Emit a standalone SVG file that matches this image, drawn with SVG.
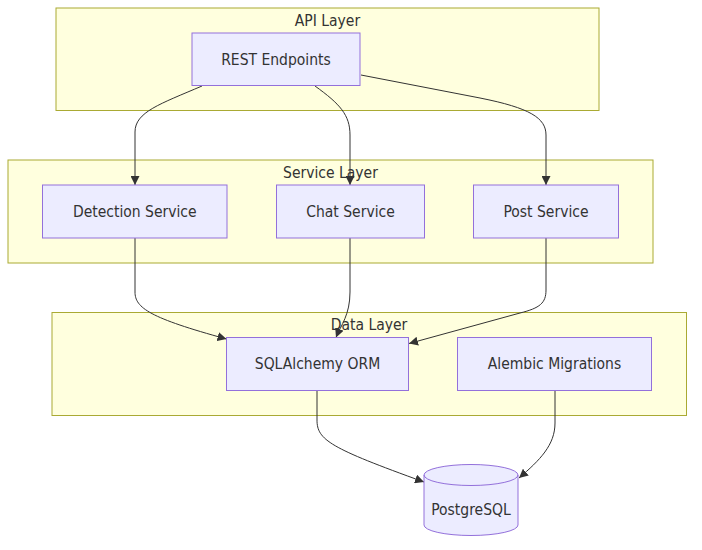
<svg xmlns="http://www.w3.org/2000/svg" width="702" height="550" viewBox="0 0 702 550">
<style>
.cluster rect{fill:#ffffde;stroke:#aaaa33;stroke-width:1}
.node rect,.node path{fill:#ECECFF;stroke:#9370DB;stroke-width:1}
text{font-family:"DejaVu Sans Condensed","DejaVu Sans","Liberation Sans",sans-serif;font-size:15.5px;fill:#333;text-anchor:middle}
.edge{fill:none;stroke:#333;stroke-width:1}
</style>
<defs>
<marker id="arr" viewBox="0 0 10 10" refX="10" refY="5" markerUnits="userSpaceOnUse" markerWidth="9" markerHeight="9" orient="auto">
<path d="M0,0 L10,5 L0,10 z" fill="#333"/>
</marker>
</defs>
<g id="cluster-api" class="cluster"><rect x="56" y="8" width="543" height="102.5"/><text x="327.5" y="25.5">API Layer</text></g>
<g id="cluster-service" class="cluster"><rect x="8" y="160" width="645" height="103"/><text x="330.5" y="177.5">Service Layer</text></g>
<g id="cluster-data" class="cluster"><rect x="52" y="312.5" width="634.5" height="103"/><text x="369" y="330">Data Layer</text></g>
<g id="edges">
<path class="edge" marker-end="url(#arr)" d="M202,86 C160,104 135,112 135,132 L135,185"/>
<path class="edge" marker-end="url(#arr)" d="M315,86 C340,104 350,115 350,135 L350,185"/>
<path class="edge" marker-end="url(#arr)" d="M361,75 L480,98 C530,108 546,118 546,135 L546,185"/>
<path class="edge" marker-end="url(#arr)" d="M135,238 L135,292 C135,308 150,318 226.5,339"/>
<path class="edge" marker-end="url(#arr)" d="M350,238 L350,292 C350,315 341,325 336,337.5"/>
<path class="edge" marker-end="url(#arr)" d="M546,238 L546,290 C546,303 540,308 520,313 L409,343.5"/>
<path class="edge" marker-end="url(#arr)" d="M317,390.5 L317,420 C317,440 330,448 424,482"/>
<path class="edge" marker-end="url(#arr)" d="M555,390.5 L555,423 C555,445 540,460 519,478"/>
</g>
<g id="node-rest" class="node"><rect x="192" y="33" width="168" height="52.5"/><text x="276" y="64.5">REST Endpoints</text></g>
<g id="node-detection" class="node"><rect x="42.5" y="185" width="184.5" height="53"/><text x="134.75" y="216.5">Detection Service</text></g>
<g id="node-chat" class="node"><rect x="276.5" y="185" width="148" height="53"/><text x="350.5" y="216.5">Chat Service</text></g>
<g id="node-post" class="node"><rect x="473.5" y="185" width="145" height="53"/><text x="546" y="216.5">Post Service</text></g>
<g id="node-sqlalchemy" class="node"><rect x="226.5" y="337.5" width="182" height="53"/><text x="317.5" y="369">SQLAlchemy ORM</text></g>
<g id="node-alembic" class="node"><rect x="457.5" y="337.5" width="194" height="53"/><text x="554.5" y="369">Alembic Migrations</text></g>
<g id="node-postgres" class="node"><path d="M424,475 a47,10.5 0 0,0 94,0 a47,10.5 0 0,0 -94,0 l0,50 a47,10.5 0 0,0 94,0 l0,-50"/><text x="471" y="514.5">PostgreSQL</text></g>
</svg>
